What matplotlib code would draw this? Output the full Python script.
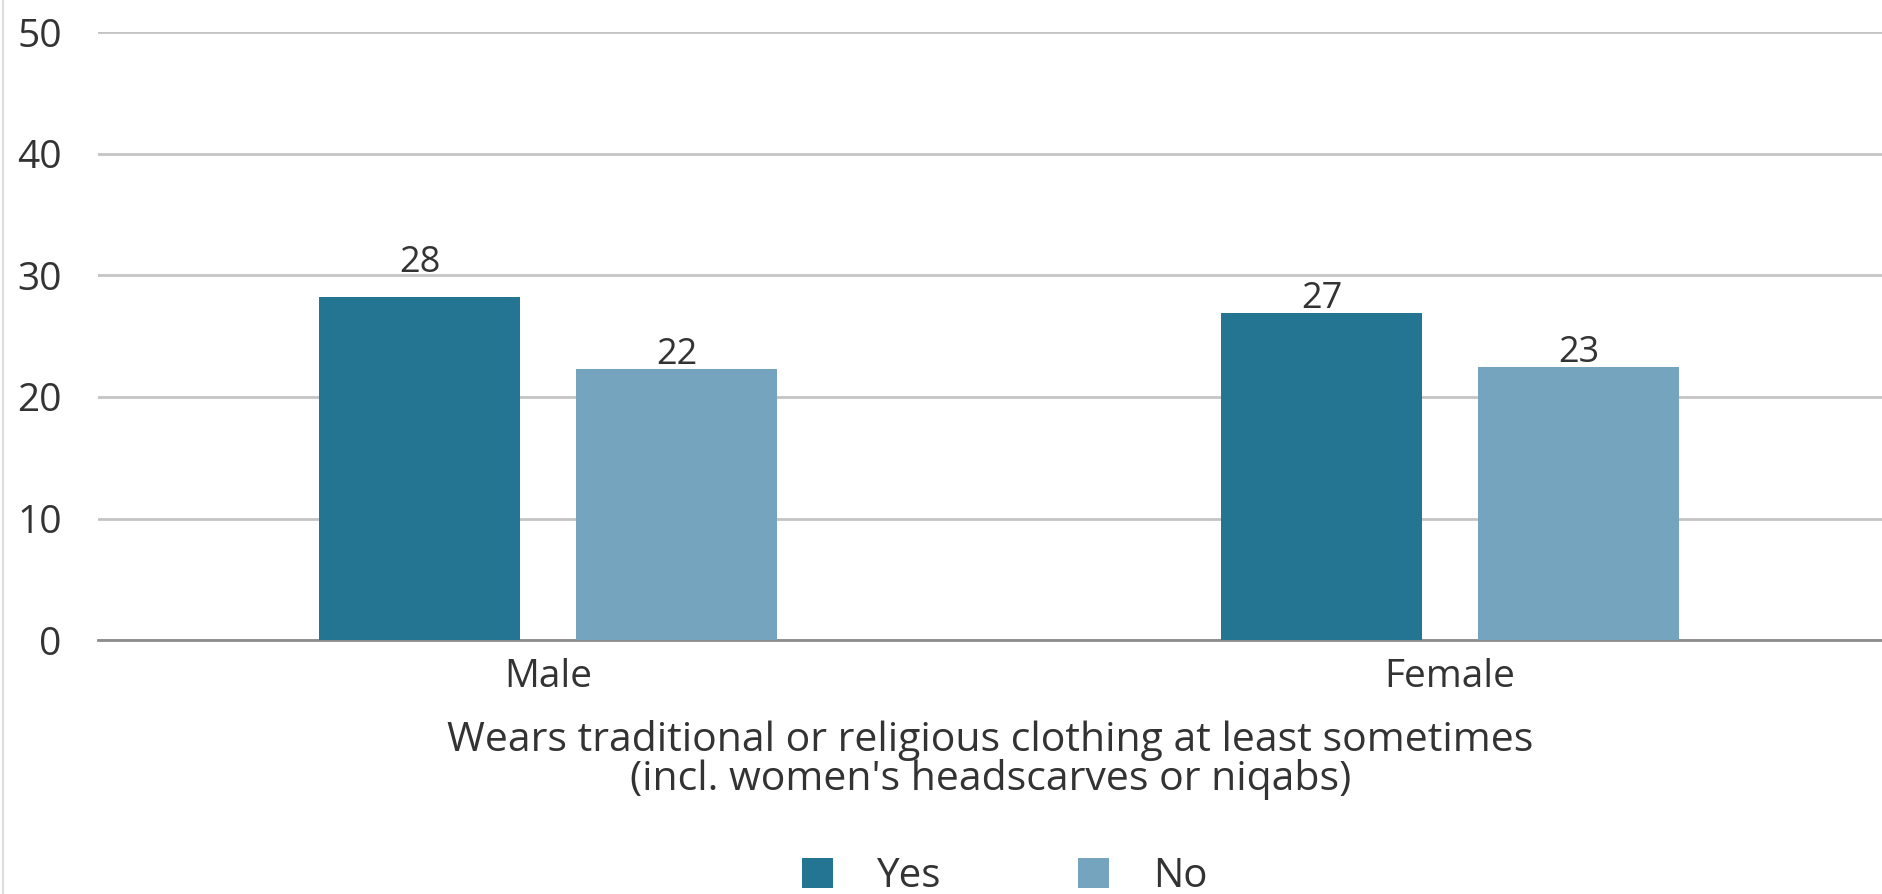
import matplotlib.pyplot as plt
import numpy as np

categories = ['Male', 'Female']
series = ['Yes', 'No']
values = {'Yes': [28.2, 26.9], 'No': [22.3, 22.5]}
labels = {'Yes': ['28', '27'], 'No': ['22', '23']}
colors = {'Yes': '#237591', 'No': '#74a4be'}
yticks = [0, 10, 20, 30, 40, 50]
xtitle = "Wears traditional or religious clothing at least sometimes\n(incl. women's headscarves or niqabs)"

plt.rcParams['font.family'] = ['Open Sans', 'DejaVu Sans']
text_color = '#333333'

fig = plt.figure(figsize=(18.83, 8.94), dpi=100)
ax = fig.add_axes([0.052, 0.284, 0.948, 0.680])

x = np.arange(len(categories))
width = 0.223
offsets = {'Yes': -0.1425, 'No': 0.1425}
for s in series:
    bars = ax.bar(x + offsets[s], values[s], width, color=colors[s], label=s, zorder=3)
    for b, lab, v in zip(bars, labels[s], values[s]):
        y = v + 0.4
        # keep the label clear of a gridline
        nxt = np.ceil(v / 10) * 10
        if y + 2.0 > nxt and v < nxt:
            y = nxt + 0.3
        ax.text(b.get_x() + b.get_width() / 2, y, lab, ha='center', va='baseline',
                fontsize=26, color=text_color)

ax.set_xlim(-0.499, 1.48)
ax.set_ylim(0, 50)
ax.set_yticks(yticks)
ax.set_xticks(x)
ax.set_xticklabels(categories)
ax.tick_params(axis='both', length=0, labelsize=28, colors=text_color)
ax.tick_params(axis='y', pad=26)
ax.tick_params(axis='x', pad=13)
ax.yaxis.grid(True, color='#c4c4c4', linewidth=2, zorder=0)
for sp in ['top', 'right', 'left']:
    ax.spines[sp].set_visible(False)
ax.spines['bottom'].set_color('#8c8c8c')
ax.spines['bottom'].set_linewidth(2)
ax.set_xlabel(xtitle, fontsize=29.5, color=text_color, labelpad=17, linespacing=0.93)

fig.legend(loc='center left', bbox_to_anchor=(0.415, 0.019), ncol=2, frameon=False,
           fontsize=29, handlelength=0.77, handleheight=0.77, columnspacing=3.4,
           handletextpad=1.1, borderpad=0, labelcolor=text_color)

fig.add_artist(plt.Line2D([0.0015, 0.0015], [0, 1], color='#dddddd', linewidth=1.5))

fig.savefig('out.png', dpi=100)
